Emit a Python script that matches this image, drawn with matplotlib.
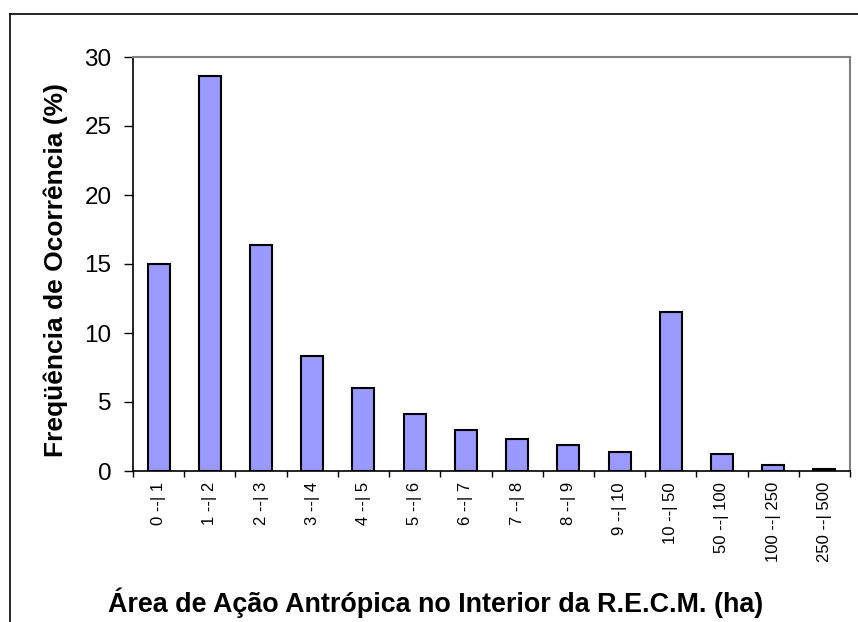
import numpy as np
import matplotlib
matplotlib.use("Agg")
import matplotlib.pyplot as plt
from matplotlib.lines import Line2D

# classes de area (ha) e frequencia de ocorrencia (%)
classes = ["0 --| 1", "1 --| 2", "2 --| 3", "3 --| 4", "4 --| 5", "5 --| 6",
           "6 --| 7", "7 --| 8", "8 --| 9", "9 --| 10", "10 --| 50",
           "50 --| 100", "100 --| 250", "250 --| 500"]
freq = [15.0, 28.6, 16.4, 8.3, 6.0, 4.1, 3.0, 2.3, 1.9, 1.4, 11.5, 1.2, 0.4, 0.15]
y_ticks = [0, 5, 10, 15, 20, 25, 30]

plt.rcParams['font.family'] = ['Liberation Sans', 'DejaVu Sans']

W, H = 858, 622
fig = plt.figure(figsize=(W / 100, H / 100), dpi=100)
ax = fig.add_axes([133 / W, 1 - 471 / H, (850 - 133) / W, (471 - 57) / H])

x = np.arange(len(classes))
ax.bar(x, freq, width=0.43, color="#9999FF", edgecolor="black", linewidth=1.5, zorder=3)

ax.set_xlim(-0.5, len(classes) - 0.5)
ax.set_ylim(0, 30)
ax.set_yticks(y_ticks)
ax.set_yticklabels([str(v) for v in y_ticks], fontsize=17.5)
ax.tick_params(axis="y", direction="out", length=6.5, width=1, pad=9)

ax.set_xticks(x)
ax.set_xticklabels(classes, rotation=90, fontsize=12, va="top", ha="center")
ax.tick_params(axis="x", which="major", length=0, pad=8)
ax.set_xticks(np.arange(-0.5, len(classes)), minor=True)
ax.tick_params(axis="x", which="minor", direction="out", length=4, width=1)

for s in ["left", "bottom"]:
    ax.spines[s].set_color("black")
    ax.spines[s].set_linewidth(1.2)
for s in ["top", "right"]:
    ax.spines[s].set_color("#808080")
    ax.spines[s].set_linewidth(1.5)

fig.text(56 / W, 1 - 270 / H, "Freqüência de Ocorrência (%)", rotation=90,
         fontsize=19, fontweight="bold", ha="center", va="center")
fig.text(436 / W, 1 - 603 / H, "Área de Ação Antrópica no Interior da R.E.C.M. (ha)",
         fontsize=19.4, fontweight="bold", ha="center", va="center")

# moldura externa (parcialmente visivel)
fig.add_artist(Line2D([10 / W, 1.0], [1 - 14 / H, 1 - 14 / H], color="black", lw=1.2,
                      transform=fig.transFigure))
fig.add_artist(Line2D([10 / W, 10 / W], [1 - 14 / H, 0], color="black", lw=1.2,
                      transform=fig.transFigure))

fig.savefig("out.png", dpi=100)
